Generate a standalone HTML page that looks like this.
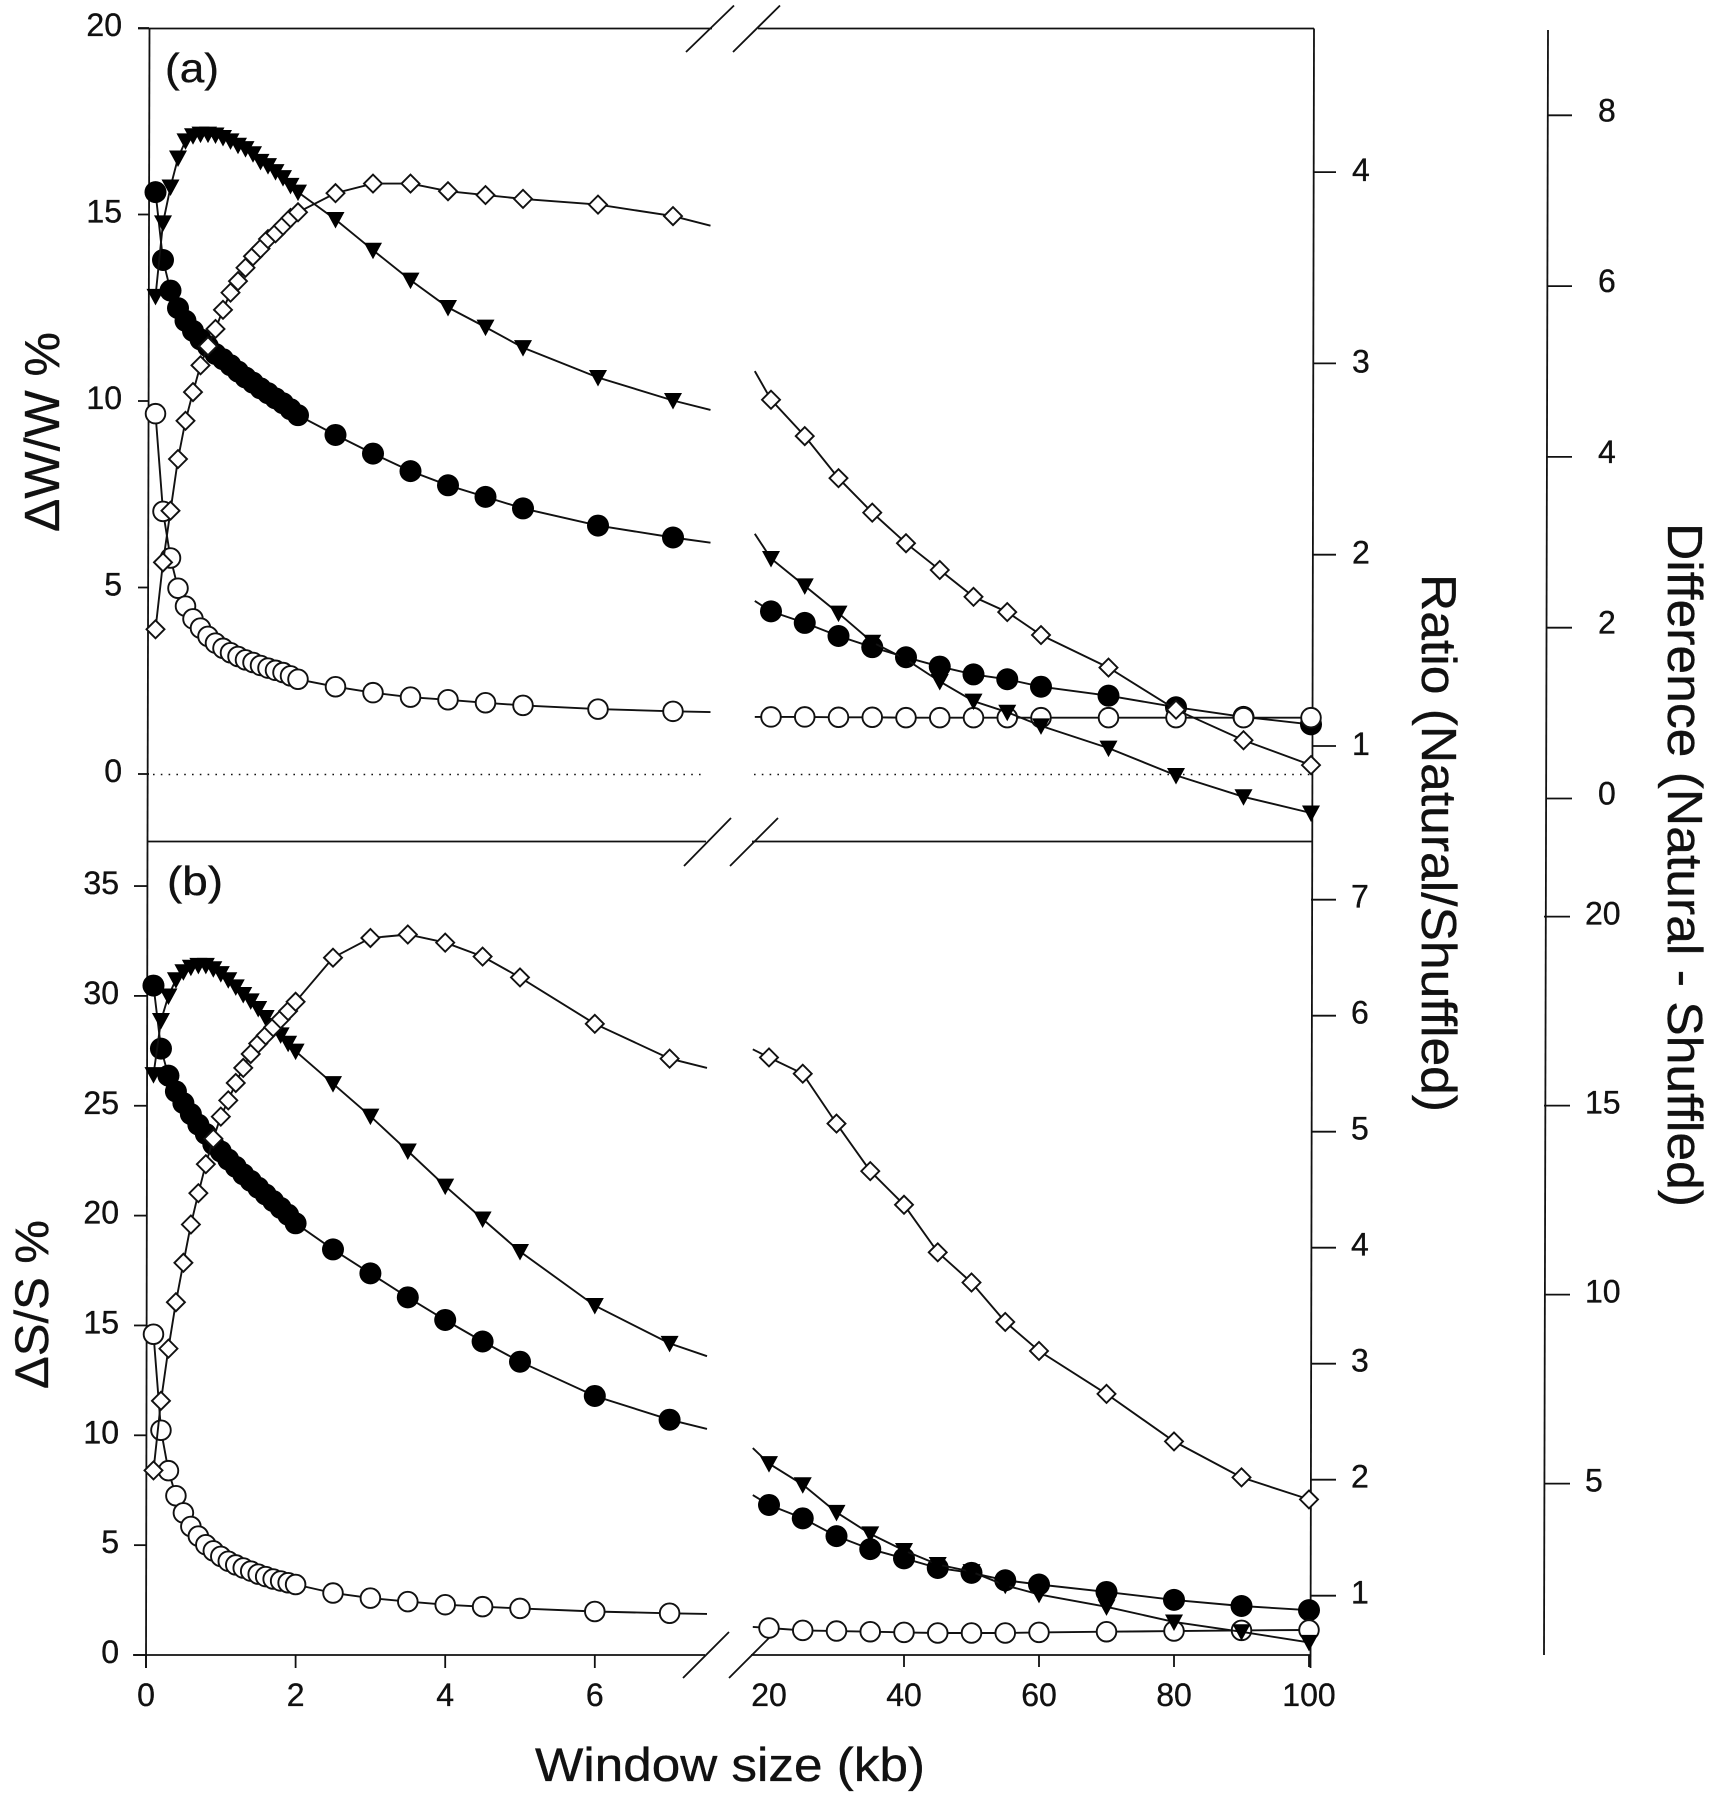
<!DOCTYPE html>
<html>
<head>
<meta charset="utf-8">
<title>Window size chart</title>
<style>
html,body{margin:0;padding:0;background:#fff;}
svg{display:block;}
text{font-family:"Liberation Sans",Arial,sans-serif;fill:#111;stroke:#111;stroke-width:0.35;}
</style>
</head>
<body>
<svg id="chart" xmlns="http://www.w3.org/2000/svg" width="1713" height="1800" viewBox="0 0 1713 1800">
  <g id="frame" fill="none" stroke="#111" stroke-width="1.8">
    <line x1="149.5" y1="28.5" x2="147.5" y2="841"/>
    <line x1="147.5" y1="841" x2="146" y2="1668"/>
    <line x1="1314" y1="28.5" x2="1310.5" y2="1668"/>
    <line x1="1548" y1="30" x2="1544" y2="1655"/>
    <line x1="138" y1="28.5" x2="712" y2="28.5"/>
    <line x1="758" y1="28.5" x2="1314" y2="28.5"/>
    <line x1="148" y1="841.5" x2="706" y2="841.5"/>
    <line x1="752" y1="841.5" x2="1312" y2="841.5"/>
    <line x1="133" y1="1655" x2="705" y2="1655"/>
    <line x1="751" y1="1655" x2="1311" y2="1655"/>
    <line x1="686" y1="52" x2="734" y2="5.5"/>
    <line x1="733" y1="52" x2="780" y2="5.5"/>
    <line x1="684" y1="866" x2="731" y2="818"/>
    <line x1="730" y1="866" x2="778" y2="818"/>
    <line x1="683" y1="1678" x2="729" y2="1632"/>
    <line x1="729" y1="1678" x2="775" y2="1632"/>
    <line x1="153" y1="774.5" x2="704" y2="774.5" stroke-width="1.5" stroke-dasharray="1.6 6.2"/>
    <line x1="754" y1="774.5" x2="1311" y2="774.5" stroke-width="1.5" stroke-dasharray="1.6 6.2"/>
  </g>
  <g id="ticks" fill="none" stroke="#111" stroke-width="1.8"></g>
  <g id="tick-labels" font-size="32"></g>
  <g id="series"></g>
  <text x="165" y="82" font-size="41" textLength="54" lengthAdjust="spacingAndGlyphs">(a)</text>
  <text x="167" y="895" font-size="41" textLength="56" lengthAdjust="spacingAndGlyphs">(b)</text>
  <text transform="translate(59,532) rotate(-90)" font-size="49" textLength="200" lengthAdjust="spacingAndGlyphs">ΔW/W %</text>
  <text transform="translate(48,1389) rotate(-90)" font-size="47" textLength="169" lengthAdjust="spacingAndGlyphs">ΔS/S %</text>
  <text transform="translate(1422,574) rotate(90)" font-size="49" textLength="538" lengthAdjust="spacingAndGlyphs">Ratio (Natural/Shuffled)</text>
  <text transform="translate(1668,523) rotate(90)" font-size="49" textLength="684" lengthAdjust="spacingAndGlyphs">Difference (Natural - Shuffled)</text>
  <text x="535" y="1781" font-size="47" textLength="390" lengthAdjust="spacingAndGlyphs">Window size (kb)</text>
</svg>
<script>
// Window sizes (kb). The last left value and first right value only extend the line.
const xLeft = [0.1,0.2,0.3,0.4,0.5,0.6,0.7,0.8,0.9,1.0,1.1,1.2,1.3,1.4,1.5,1.6,1.7,1.8,1.9,2.0,2.5,3,3.5,4,4.5,5,6,7,7.5];
const xRight = [17.6,20,25,30,35,40,45,50,55,60,70,80,90,100];

// Panel (a): natural and shuffled in dW/W %, ratio on ratio axis, difference on difference axis
const aNaturalLeft = [15.6,13.78,12.96,12.49,12.15,11.88,11.65,11.46,11.26,11.12,10.96,10.79,10.63,10.49,10.34,10.21,10.07,9.94,9.78,9.62,9.09,8.59,8.12,7.74,7.43,7.12,6.66,6.34,6.2];
const aNaturalRight = [4.64,4.36,4.05,3.7,3.4,3.13,2.88,2.67,2.54,2.34,2.1,1.79,1.53,1.33];
const aShuffledLeft = [9.66,7.04,5.79,4.98,4.5,4.16,3.91,3.69,3.51,3.37,3.25,3.15,3.06,2.99,2.91,2.84,2.78,2.72,2.63,2.54,2.34,2.18,2.06,1.99,1.91,1.84,1.74,1.68,1.66];
const aShuffledRight = [1.53,1.53,1.53,1.52,1.52,1.51,1.51,1.51,1.51,1.51,1.51,1.51,1.51,1.51];
const aDifferenceLeft = [5.88,6.74,7.16,7.5,7.7,7.76,7.78,7.78,7.77,7.74,7.7,7.65,7.61,7.55,7.46,7.41,7.34,7.27,7.18,7.1,6.78,6.42,6.07,5.75,5.52,5.28,4.93,4.66,4.55];
const aDifferenceRight = [3.1,2.81,2.49,2.17,1.83,1.63,1.37,1.14,1.01,0.85,0.59,0.27,0.02,-0.17];
const aRatioLeft = [1.61,1.96,2.23,2.5,2.7,2.85,2.99,3.09,3.18,3.28,3.37,3.43,3.5,3.56,3.6,3.65,3.68,3.72,3.76,3.79,3.89,3.94,3.94,3.9,3.88,3.86,3.83,3.77,3.72];
const aRatioRight = [2.96,2.81,2.62,2.4,2.22,2.06,1.92,1.78,1.7,1.58,1.41,1.19,1.03,0.9];

// Panel (b): natural and shuffled in dS/S %, ratio on ratio axis, difference on difference axis
const bNaturalLeft = [30.47,27.6,26.37,25.65,25.12,24.62,24.14,23.72,23.25,22.92,22.55,22.22,21.88,21.58,21.27,20.96,20.66,20.35,20.04,19.65,18.46,17.37,16.28,15.25,14.27,13.35,11.79,10.71,10.29];
const bNaturalRight = [7.28,6.83,6.22,5.41,4.82,4.4,3.96,3.74,3.4,3.21,2.87,2.51,2.23,2.04];
const bShuffledLeft = [14.6,10.23,8.39,7.25,6.47,5.85,5.41,5.02,4.74,4.49,4.27,4.1,3.96,3.82,3.68,3.57,3.46,3.37,3.29,3.21,2.82,2.59,2.43,2.29,2.2,2.12,1.98,1.9,1.87];
const bShuffledRight = [1.28,1.23,1.12,1.09,1.06,1.03,1.0,1.0,1.0,1.03,1.06,1.09,1.12,1.14];
const bDifferenceLeft = [15.82,17.25,17.9,18.33,18.54,18.66,18.71,18.71,18.62,18.49,18.33,18.14,17.94,17.77,17.57,17.33,17.12,16.87,16.65,16.44,15.58,14.72,13.8,12.87,12.0,11.14,9.71,8.71,8.37];
const bDifferenceRight = [5.94,5.53,4.97,4.24,3.67,3.23,2.86,2.67,2.31,2.07,1.74,1.34,1.08,0.8];
const bRatioLeft = [2.08,2.68,3.13,3.53,3.87,4.2,4.47,4.72,4.94,5.13,5.27,5.42,5.55,5.67,5.76,5.83,5.9,5.97,6.04,6.12,6.5,6.67,6.7,6.63,6.51,6.33,5.93,5.63,5.55];
const bRatioRight = [5.71,5.64,5.5,5.07,4.66,4.37,3.96,3.7,3.36,3.11,2.74,2.33,2.02,1.83];

// Tick labels
const aPercentTicks = [0,5,10,15,20];
const bPercentTicks = [0,5,10,15,20,25,30,35];
const aRatioTicks = [1,2,3,4];
const bRatioTicks = [1,2,3,4,5,6,7];
const aDifferenceTicks = [0,2,4,6,8];
const bDifferenceTicks = [5,10,15,20];
const xTicksLeft = [0,2,4,6];
const xTicksRight = [20,40,60,80,100];

const NS = 'http://www.w3.org/2000/svg';

// Axis functions
function xLeftA(k){ return 148 + 75 * k; }
function xRightA(k){ return 771 + 6.75 * (k - 20); }
function xLeftB(k){ return 146 + 74.8 * k; }
function xRightB(k){ return 769 + 6.75 * (k - 20); }
function yPercentA(v){ return 774 - 37.3 * v; }
function yRatioA(v){ return 746 - 191.3 * (v - 1); }
function yDifferenceA(v){ return 798.5 - 85.4 * v; }
function yPercentB(v){ return 1655 - 21.97 * v; }
function yRatioB(v){ return 1595.7 - 116 * (v - 1); }
function yDifferenceB(v){ return 1483.6 - 37.8 * (v - 5); }

function make(tag, attrs){
  const el = document.createElementNS(NS, tag);
  for (const k in attrs) el.setAttribute(k, attrs[k]);
  return el;
}

const tickG = document.getElementById('ticks');
const labelG = document.getElementById('tick-labels');
const seriesG = document.getElementById('series');

function addTick(x1, y1, x2, y2, name){
  const t = make('line', {x1: x1, y1: y1, x2: x2, y2: y2});
  
  
  tickG.appendChild(t);
}
function addLabel(x, y, txt, anchor, name){
  const t = make('text', {x: x, y: y, 'text-anchor': anchor});
  t.textContent = txt;
  
  
  labelG.appendChild(t);
}

aPercentTicks.forEach(function(v){
  const y = yPercentA(v);
  addTick(138, y, 149, y, 'tick-dw-' + v);
  addLabel(122, y + 8, String(v), 'end', 'tick-label-dw-' + v);
});
bPercentTicks.forEach(function(v){
  const y = yPercentB(v);
  addTick(134, y, 147, y, 'tick-ds-' + v);
  addLabel(119, y + 8, String(v), 'end', 'tick-label-ds-' + v);
});
aRatioTicks.forEach(function(v){
  const y = yRatioA(v);
  addTick(1313, y, 1336, y, 'tick-ratio-a-' + v);
  addLabel(1352, y + 9, String(v), 'start', 'tick-label-ratio-a-' + v);
});
bRatioTicks.forEach(function(v){
  const y = yRatioB(v);
  addTick(1311, y, 1336, y, 'tick-ratio-b-' + v);
  addLabel(1351, y + 8, String(v), 'start', 'tick-label-ratio-b-' + v);
});
aDifferenceTicks.forEach(function(v){
  const y = yDifferenceA(v);
  addTick(1547, y, 1572, y, 'tick-difference-a-' + v);
  addLabel(1598, y + 6, String(v), 'start', 'tick-label-difference-a-' + v);
});
bDifferenceTicks.forEach(function(v){
  const y = yDifferenceB(v);
  addTick(1544, y, 1570, y, 'tick-difference-b-' + v);
  addLabel(1585, y + 8, String(v), 'start', 'tick-label-difference-b-' + v);
});
xTicksLeft.forEach(function(k){
  const x = xLeftB(k);
  addTick(x, 1655, x, 1668, 'tick-x-' + k);
  addLabel(x, 1706, String(k), 'middle', 'tick-label-x-' + k);
});
xTicksRight.forEach(function(k){
  const x = xRightB(k);
  if (k !== 20) addTick(x, 1655, x, 1667, 'tick-x-' + k);
  addLabel(x, 1706, String(k), 'middle', 'tick-label-x-' + k);
});

function drawMarker(g, kind, x, y, name){
  let m;
  if (kind === 'filled') {
    m = make('circle', {cx: x, cy: y, r: 11, fill: '#000', stroke: 'none'});
  } else if (kind === 'open') {
    m = make('circle', {cx: x, cy: y, r: 9.8, fill: '#fff', stroke: '#111', 'stroke-width': 1.9});
  } else if (kind === 'triangle') {
    m = make('polygon', {points: (x - 9) + ',' + (y - 7.5) + ' ' + (x + 9) + ',' + (y - 7.5) + ' ' + x + ',' + (y + 9), fill: '#000', stroke: 'none'});
  } else {
    m = make('polygon', {points: (x - 9) + ',' + y + ' ' + x + ',' + (y - 9) + ' ' + (x + 9) + ',' + y + ' ' + x + ',' + (y + 9), fill: '#fff', stroke: '#111', 'stroke-width': 1.9});
  }
  
  
  g.appendChild(m);
}

function drawSeries(panel, kind, leftVals, rightVals, xL, xR, yFn){
  const g = make('g', {});
  
  
  seriesG.appendChild(g);
  const ptsL = xLeft.map(function(k, i){ return xL(k).toFixed(1) + ',' + yFn(leftVals[i]).toFixed(1); }).join(' ');
  const ptsR = xRight.map(function(k, i){ return xR(k).toFixed(1) + ',' + yFn(rightVals[i]).toFixed(1); }).join(' ');
  const lineL = make('polyline', {points: ptsL, fill: 'none', stroke: '#111', 'stroke-width': 1.9});
  
  
  g.appendChild(lineL);
  const lineR = make('polyline', {points: ptsR, fill: 'none', stroke: '#111', 'stroke-width': 1.9});
  
  
  g.appendChild(lineR);
  xLeft.forEach(function(k, i){
    if (i === xLeft.length - 1) return;
    drawMarker(g, kind, xL(k), yFn(leftVals[i]), 'point-' + panel + '-' + kind + '-' + k);
  });
  xRight.forEach(function(k, i){
    if (i === 0) return;
    drawMarker(g, kind, xR(k), yFn(rightVals[i]), 'point-' + panel + '-' + kind + '-' + k);
  });
}

drawSeries('a', 'filled', aNaturalLeft, aNaturalRight, xLeftA, xRightA, yPercentA);
drawSeries('a', 'open', aShuffledLeft, aShuffledRight, xLeftA, xRightA, yPercentA);
drawSeries('a', 'triangle', aDifferenceLeft, aDifferenceRight, xLeftA, xRightA, yDifferenceA);
drawSeries('a', 'diamond', aRatioLeft, aRatioRight, xLeftA, xRightA, yRatioA);
drawSeries('b', 'filled', bNaturalLeft, bNaturalRight, xLeftB, xRightB, yPercentB);
drawSeries('b', 'open', bShuffledLeft, bShuffledRight, xLeftB, xRightB, yPercentB);
drawSeries('b', 'triangle', bDifferenceLeft, bDifferenceRight, xLeftB, xRightB, yDifferenceB);
drawSeries('b', 'diamond', bRatioLeft, bRatioRight, xLeftB, xRightB, yRatioB);
</script>
</body>
</html>
